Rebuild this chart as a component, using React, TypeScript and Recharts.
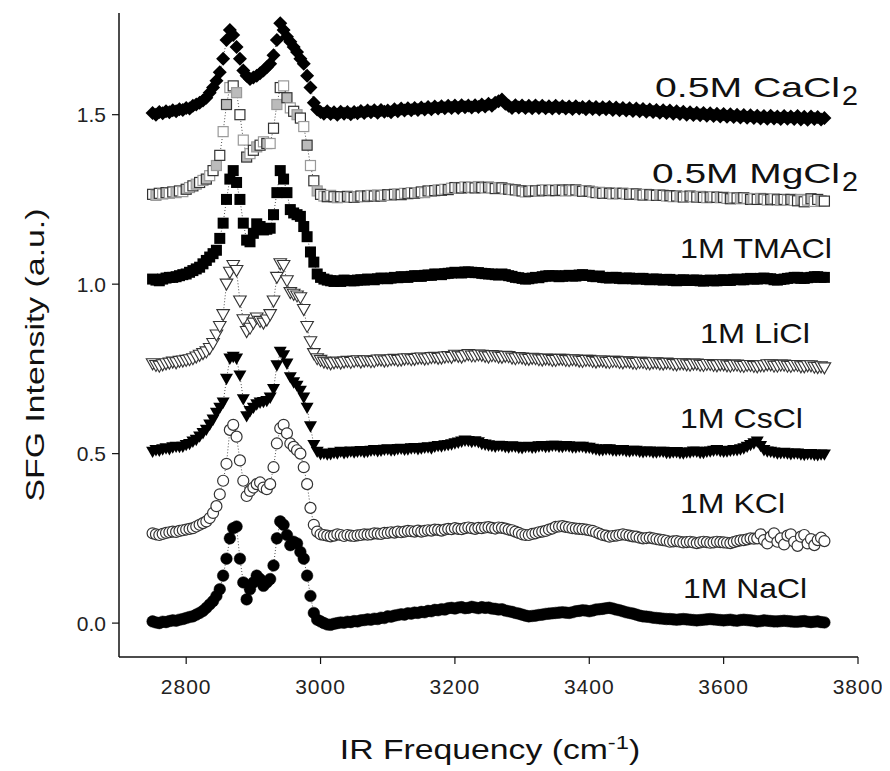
import React from "react";
import { LineChart, Line, XAxis, YAxis, Customized } from "recharts";

// IR frequency grid (cm-1), 5 cm-1 steps
const freq = [
  2750, 2755, 2760, 2765, 2770, 2775, 2780, 2785, 2790, 2795,
  2800, 2805, 2810, 2815, 2820, 2825, 2830, 2835, 2840, 2845,
  2850, 2855, 2860, 2865, 2870, 2875, 2880, 2885, 2890, 2895,
  2900, 2905, 2910, 2915, 2920, 2925, 2930, 2935, 2940, 2945,
  2950, 2955, 2960, 2965, 2970, 2975, 2980, 2985, 2990, 2995,
  3000, 3005, 3010, 3015, 3020, 3025, 3030, 3035, 3040, 3045,
  3050, 3055, 3060, 3065, 3070, 3075, 3080, 3085, 3090, 3095,
  3100, 3105, 3110, 3115, 3120, 3125, 3130, 3135, 3140, 3145,
  3150, 3155, 3160, 3165, 3170, 3175, 3180, 3185, 3190, 3195,
  3200, 3205, 3210, 3215, 3220, 3225, 3230, 3235, 3240, 3245,
  3250, 3255, 3260, 3265, 3270, 3275, 3280, 3285, 3290, 3295,
  3300, 3305, 3310, 3315, 3320, 3325, 3330, 3335, 3340, 3345,
  3350, 3355, 3360, 3365, 3370, 3375, 3380, 3385, 3390, 3395,
  3400, 3405, 3410, 3415, 3420, 3425, 3430, 3435, 3440, 3445,
  3450, 3455, 3460, 3465, 3470, 3475, 3480, 3485, 3490, 3495,
  3500, 3505, 3510, 3515, 3520, 3525, 3530, 3535, 3540, 3545,
  3550, 3555, 3560, 3565, 3570, 3575, 3580, 3585, 3590, 3595,
  3600, 3605, 3610, 3615, 3620, 3625, 3630, 3635, 3640, 3645,
  3650, 3655, 3660, 3665, 3670, 3675, 3680, 3685, 3690, 3695,
  3700, 3705, 3710, 3715, 3720, 3725, 3730, 3735, 3740, 3745,
  3750,
];

const nacl = [
  0.005, 0.002, 0.0, 0.004, 0.003, 0.006, 0.008, 0.007, 0.01, 0.012,
  0.015, 0.018, 0.02, 0.025, 0.03, 0.036, 0.045, 0.055, 0.065, 0.08,
  0.1, 0.14, 0.19, 0.25, 0.28, 0.285, 0.19, 0.12, 0.07, 0.1,
  0.12, 0.14, 0.13, 0.11, 0.12, 0.13, 0.17, 0.25, 0.3, 0.29,
  0.26, 0.23, 0.24, 0.235, 0.21, 0.19, 0.14, 0.08, 0.03, 0.01,
  0.005, 0.0, -0.004, -0.005, -0.002, 0.0, 0.002, 0.001, 0.004, 0.003,
  0.006, 0.005, 0.008, 0.009, 0.011, 0.01, 0.013, 0.012, 0.016, 0.015,
  0.02, 0.019, 0.022, 0.024, 0.026, 0.025, 0.029, 0.028, 0.031, 0.03,
  0.033, 0.032, 0.036, 0.035, 0.039, 0.038, 0.041, 0.04, 0.044, 0.045,
  0.043, 0.046, 0.047, 0.044, 0.045, 0.048, 0.046, 0.044, 0.047, 0.045,
  0.046, 0.043, 0.042, 0.04, 0.041, 0.037, 0.035, 0.033, 0.03, 0.028,
  0.025, 0.022, 0.02, 0.021, 0.022, 0.024, 0.025, 0.027, 0.028, 0.029,
  0.03, 0.031, 0.032, 0.031, 0.03, 0.032, 0.035, 0.036, 0.038, 0.037,
  0.035, 0.037, 0.04, 0.041, 0.042, 0.044, 0.045, 0.043, 0.04, 0.038,
  0.035, 0.032, 0.03, 0.028, 0.025, 0.022, 0.02, 0.019, 0.018, 0.016,
  0.015, 0.014, 0.013, 0.012, 0.012, 0.011, 0.01, 0.011, 0.012, 0.011,
  0.01, 0.009, 0.008, 0.009, 0.01, 0.011, 0.012, 0.011, 0.01, 0.009,
  0.008, 0.009, 0.01, 0.008, 0.007, 0.009, 0.01, 0.009, 0.008, 0.007,
  0.005, 0.006, 0.008, 0.007, 0.006, 0.005, 0.005, 0.006, 0.007, 0.006,
  0.005, 0.004, 0.004, 0.005, 0.006, 0.004, 0.003, 0.004, 0.005, 0.003,
  0.002,
];

const kcl = [
  0.265, 0.262, 0.26, 0.263, 0.266, 0.268, 0.27, 0.269, 0.272, 0.274,
  0.276, 0.278, 0.28, 0.285, 0.29, 0.295, 0.3, 0.31, 0.325, 0.345,
  0.38, 0.42, 0.47, 0.57, 0.585, 0.55, 0.48, 0.42, 0.375, 0.39,
  0.4, 0.41, 0.415, 0.4, 0.395, 0.41, 0.46, 0.53, 0.575, 0.585,
  0.56, 0.53, 0.52, 0.51, 0.5, 0.46, 0.41, 0.34, 0.29, 0.27,
  0.262, 0.26, 0.258, 0.256, 0.258, 0.262, 0.26, 0.257, 0.26, 0.258,
  0.257, 0.259, 0.26, 0.262, 0.261, 0.262, 0.265, 0.264, 0.263, 0.266,
  0.266, 0.268, 0.267, 0.27, 0.268, 0.27, 0.272, 0.271, 0.27, 0.273,
  0.27, 0.272, 0.274, 0.273, 0.276, 0.275, 0.273, 0.276, 0.278, 0.277,
  0.28, 0.278, 0.277, 0.28, 0.282, 0.28, 0.278, 0.281, 0.28, 0.282,
  0.283, 0.281, 0.279, 0.282, 0.281, 0.279, 0.276, 0.274, 0.27, 0.266,
  0.262, 0.26, 0.26, 0.263, 0.265, 0.268, 0.27, 0.272, 0.276, 0.279,
  0.284, 0.285, 0.286, 0.284, 0.282, 0.28, 0.279, 0.278, 0.277, 0.276,
  0.274, 0.272, 0.268, 0.264, 0.26, 0.258, 0.255, 0.257, 0.258, 0.26,
  0.262, 0.26, 0.258, 0.256, 0.255, 0.252, 0.25, 0.251, 0.252, 0.25,
  0.248, 0.246, 0.245, 0.243, 0.24, 0.241, 0.242, 0.24, 0.238, 0.239,
  0.24, 0.238, 0.236, 0.238, 0.24, 0.239, 0.237, 0.238, 0.24, 0.239,
  0.238, 0.237, 0.236, 0.239, 0.242, 0.244, 0.245, 0.247, 0.25, 0.249,
  0.25, 0.262, 0.245, 0.235, 0.255, 0.265, 0.24, 0.25, 0.232, 0.258,
  0.262, 0.24, 0.228, 0.255, 0.26, 0.235, 0.248, 0.23, 0.245, 0.252,
  0.242,
];

const cscl = [
  0.505, 0.51, 0.508, 0.512, 0.515, 0.513, 0.518, 0.52, 0.519, 0.52,
  0.525, 0.528, 0.535, 0.54, 0.55, 0.56, 0.57, 0.585, 0.6, 0.62,
  0.635, 0.65, 0.72, 0.78, 0.785, 0.78, 0.73, 0.66, 0.61, 0.625,
  0.635, 0.645, 0.65, 0.652, 0.655, 0.665, 0.69, 0.76, 0.8, 0.79,
  0.765, 0.725, 0.71, 0.7, 0.685, 0.665, 0.635, 0.58, 0.525, 0.505,
  0.498, 0.5, 0.497, 0.498, 0.502, 0.5, 0.505, 0.501, 0.503, 0.506,
  0.503, 0.505, 0.507, 0.504, 0.505, 0.508, 0.51, 0.507, 0.508, 0.511,
  0.512, 0.509, 0.51, 0.513, 0.514, 0.511, 0.512, 0.515, 0.516, 0.513,
  0.515, 0.517, 0.518, 0.515, 0.52, 0.522, 0.521, 0.524, 0.525, 0.527,
  0.53, 0.532, 0.535, 0.538, 0.537, 0.534, 0.536, 0.533, 0.528, 0.526,
  0.524, 0.522, 0.52, 0.523, 0.522, 0.519, 0.518, 0.521, 0.52, 0.517,
  0.516, 0.519, 0.52, 0.517, 0.518, 0.521, 0.522, 0.519, 0.52, 0.523,
  0.523, 0.52, 0.519, 0.522, 0.521, 0.518, 0.518, 0.52, 0.52, 0.517,
  0.517, 0.514, 0.512, 0.51, 0.51, 0.512, 0.512, 0.509, 0.508, 0.51,
  0.51, 0.507, 0.506, 0.508, 0.508, 0.505, 0.504, 0.506, 0.506, 0.503,
  0.503, 0.505, 0.505, 0.502, 0.502, 0.504, 0.504, 0.501, 0.5, 0.503,
  0.503, 0.506, 0.505, 0.502, 0.502, 0.505, 0.506, 0.508, 0.51, 0.507,
  0.505, 0.506, 0.508, 0.51, 0.51, 0.512, 0.515, 0.52, 0.525, 0.53,
  0.535, 0.522, 0.51, 0.506, 0.505, 0.503, 0.5, 0.501, 0.502, 0.5,
  0.498, 0.5, 0.5, 0.497, 0.496, 0.498, 0.498, 0.496, 0.495, 0.497,
  0.497,
];

const licl = [
  0.765, 0.76, 0.758, 0.762, 0.765, 0.767, 0.77, 0.768, 0.772, 0.773,
  0.775, 0.777, 0.78, 0.785, 0.79, 0.795, 0.8, 0.81, 0.825, 0.85,
  0.875, 0.91, 1.0, 1.035, 1.055, 1.04, 0.95, 0.895, 0.86, 0.87,
  0.885, 0.9, 0.89, 0.885, 0.894, 0.91, 0.95, 1.02, 1.06, 1.055,
  1.01, 0.975, 0.97, 0.965, 0.96, 0.925, 0.875, 0.83, 0.795, 0.78,
  0.775, 0.77, 0.768, 0.765, 0.768, 0.77, 0.767, 0.77, 0.772, 0.769,
  0.772, 0.774, 0.77, 0.773, 0.774, 0.771, 0.772, 0.776, 0.776, 0.773,
  0.774, 0.777, 0.778, 0.775, 0.776, 0.779, 0.78, 0.777, 0.778, 0.781,
  0.782, 0.779, 0.78, 0.783, 0.784, 0.781, 0.782, 0.785, 0.786, 0.784,
  0.79, 0.787, 0.785, 0.789, 0.792, 0.788, 0.788, 0.791, 0.79, 0.787,
  0.785, 0.789, 0.788, 0.785, 0.784, 0.787, 0.786, 0.782, 0.78, 0.783,
  0.782, 0.779, 0.778, 0.781, 0.78, 0.777, 0.776, 0.779, 0.778, 0.775,
  0.775, 0.778, 0.778, 0.775, 0.774, 0.777, 0.776, 0.773, 0.772, 0.775,
  0.775, 0.772, 0.77, 0.773, 0.773, 0.77, 0.769, 0.772, 0.772, 0.769,
  0.768, 0.771, 0.77, 0.767, 0.766, 0.769, 0.769, 0.766, 0.765, 0.768,
  0.768, 0.765, 0.764, 0.767, 0.766, 0.763, 0.762, 0.765, 0.765, 0.762,
  0.761, 0.764, 0.764, 0.761, 0.76, 0.763, 0.763, 0.76, 0.759, 0.762,
  0.762, 0.759, 0.758, 0.761, 0.761, 0.758, 0.757, 0.76, 0.76, 0.757,
  0.756, 0.759, 0.759, 0.762, 0.762, 0.758, 0.758, 0.761, 0.761, 0.758,
  0.757, 0.76, 0.76, 0.756, 0.756, 0.759, 0.759, 0.755, 0.754, 0.756,
  0.753,
];

const tmacl = [
  1.015, 1.012, 1.01, 1.015, 1.018, 1.02, 1.02, 1.022, 1.025, 1.028,
  1.03, 1.035, 1.04, 1.045, 1.05, 1.06, 1.07, 1.08, 1.09, 1.1,
  1.135, 1.18, 1.25, 1.31, 1.335, 1.3, 1.25, 1.18, 1.13, 1.125,
  1.15, 1.178, 1.17, 1.16, 1.162, 1.165, 1.205, 1.27, 1.335, 1.31,
  1.27, 1.22, 1.21, 1.205, 1.2, 1.17, 1.14, 1.095, 1.065, 1.03,
  1.02, 1.015, 1.012, 1.01, 1.008, 1.01, 1.008, 1.012, 1.011, 1.01,
  1.01, 1.012, 1.013, 1.012, 1.015, 1.014, 1.013, 1.016, 1.018, 1.017,
  1.016, 1.018, 1.02, 1.019, 1.022, 1.021, 1.02, 1.023, 1.025, 1.024,
  1.023, 1.026, 1.027, 1.026, 1.03, 1.029, 1.028, 1.031, 1.032, 1.033,
  1.035, 1.034, 1.033, 1.036, 1.036, 1.035, 1.034, 1.034, 1.032, 1.031,
  1.03, 1.03, 1.028, 1.027, 1.03, 1.028, 1.025, 1.023, 1.02, 1.019,
  1.017, 1.015, 1.016, 1.018, 1.02, 1.019, 1.022, 1.024, 1.025, 1.024,
  1.025, 1.022, 1.023, 1.025, 1.026, 1.024, 1.024, 1.027, 1.028, 1.026,
  1.026, 1.023, 1.022, 1.024, 1.02, 1.019, 1.018, 1.02, 1.02, 1.017,
  1.016, 1.018, 1.018, 1.016, 1.015, 1.017, 1.017, 1.014, 1.013, 1.015,
  1.015, 1.013, 1.012, 1.014, 1.014, 1.011, 1.01, 1.012, 1.013, 1.011,
  1.011, 1.012, 1.012, 1.01, 1.009, 1.011, 1.012, 1.01, 1.01, 1.012,
  1.013, 1.011, 1.011, 1.014, 1.015, 1.013, 1.013, 1.016, 1.017, 1.015,
  1.015, 1.017, 1.018, 1.016, 1.016, 1.013, 1.012, 1.014, 1.015, 1.017,
  1.018, 1.02, 1.02, 1.017, 1.017, 1.019, 1.02, 1.022, 1.022, 1.02,
  1.02,
];

const mgcl2 = [
  1.265, 1.262, 1.268, 1.266, 1.27, 1.268, 1.272, 1.27, 1.275, 1.273,
  1.28, 1.285, 1.29, 1.295, 1.3, 1.306, 1.31, 1.32, 1.335, 1.35,
  1.38, 1.45, 1.53, 1.58, 1.585, 1.565, 1.5, 1.425, 1.375, 1.385,
  1.395, 1.405, 1.41, 1.42, 1.415, 1.415, 1.46, 1.53, 1.58, 1.585,
  1.55, 1.52, 1.51, 1.5, 1.49, 1.465, 1.41, 1.35, 1.305, 1.275,
  1.265, 1.26, 1.258, 1.262, 1.258, 1.255, 1.258, 1.256, 1.259, 1.257,
  1.256, 1.258, 1.26, 1.258, 1.26, 1.262, 1.26, 1.263, 1.26, 1.262,
  1.264, 1.262, 1.265, 1.266, 1.264, 1.268, 1.267, 1.27, 1.268, 1.27,
  1.272, 1.27, 1.275, 1.274, 1.276, 1.278, 1.277, 1.28, 1.279, 1.283,
  1.285, 1.283, 1.284, 1.287, 1.285, 1.286, 1.284, 1.288, 1.285, 1.284,
  1.286, 1.284, 1.282, 1.285, 1.284, 1.281, 1.28, 1.279, 1.278, 1.276,
  1.275, 1.272, 1.274, 1.276, 1.275, 1.274, 1.277, 1.278, 1.276, 1.278,
  1.276, 1.279, 1.277, 1.275, 1.278, 1.276, 1.278, 1.276, 1.274, 1.276,
  1.274, 1.272, 1.27, 1.271, 1.268, 1.27, 1.268, 1.266, 1.268, 1.267,
  1.268, 1.266, 1.265, 1.267, 1.266, 1.264, 1.263, 1.265, 1.264, 1.262,
  1.262, 1.264, 1.262, 1.26, 1.261, 1.258, 1.26, 1.259, 1.257, 1.258,
  1.26, 1.258, 1.257, 1.259, 1.256, 1.255, 1.257, 1.258, 1.256, 1.255,
  1.256, 1.253, 1.252, 1.255, 1.254, 1.252, 1.255, 1.253, 1.25, 1.252,
  1.25, 1.253, 1.251, 1.248, 1.25, 1.252, 1.249, 1.247, 1.25, 1.248,
  1.25, 1.247, 1.246, 1.25, 1.243, 1.248, 1.252, 1.244, 1.25, 1.246,
  1.245,
];

const cacl2 = [
  1.505, 1.5, 1.508, 1.504, 1.51, 1.507, 1.513, 1.51, 1.516, 1.514,
  1.52, 1.518, 1.526, 1.53, 1.535, 1.542, 1.55, 1.565, 1.58, 1.6,
  1.625, 1.665, 1.72, 1.75, 1.735, 1.7, 1.665, 1.63, 1.615, 1.605,
  1.61, 1.615, 1.622, 1.63, 1.64, 1.65, 1.675, 1.72, 1.77, 1.75,
  1.73, 1.715, 1.7, 1.685, 1.665, 1.65, 1.615, 1.58, 1.535, 1.515,
  1.508, 1.503, 1.51, 1.502, 1.507, 1.5, 1.509, 1.503, 1.508, 1.501,
  1.508, 1.504, 1.511, 1.505, 1.512, 1.507, 1.513, 1.506, 1.514, 1.509,
  1.512, 1.507, 1.516, 1.51, 1.518, 1.512, 1.519, 1.513, 1.52, 1.514,
  1.521, 1.515, 1.523, 1.516, 1.524, 1.518, 1.525, 1.519, 1.526, 1.52,
  1.527, 1.52, 1.528, 1.522, 1.527, 1.521, 1.528, 1.523, 1.53, 1.524,
  1.532, 1.526, 1.535, 1.54, 1.545, 1.532, 1.526, 1.52, 1.528, 1.521,
  1.527, 1.52, 1.526, 1.519, 1.527, 1.52, 1.526, 1.519, 1.525, 1.518,
  1.526, 1.519, 1.525, 1.518, 1.524, 1.517, 1.525, 1.518, 1.523, 1.516,
  1.524, 1.517, 1.523, 1.515, 1.522, 1.516, 1.523, 1.514, 1.521, 1.513,
  1.52, 1.512, 1.519, 1.511, 1.518, 1.51, 1.517, 1.509, 1.515, 1.508,
  1.514, 1.506, 1.513, 1.505, 1.512, 1.503, 1.51, 1.502, 1.509, 1.5,
  1.507, 1.499, 1.506, 1.498, 1.505, 1.497, 1.504, 1.496, 1.503, 1.495,
  1.502, 1.494, 1.501, 1.493, 1.5, 1.492, 1.499, 1.491, 1.498, 1.49,
  1.497, 1.489, 1.496, 1.488, 1.497, 1.489, 1.495, 1.487, 1.496, 1.488,
  1.495, 1.487, 1.496, 1.486, 1.494, 1.485, 1.495, 1.487, 1.493, 1.486,
  1.49,
];

const xTicks = [2800, 3000, 3200, 3400, 3600, 3800];
const yTicks = [0, 0.5, 1.0, 1.5];

const data = freq.map((x, i) => ({
  x,
  nacl: nacl[i],
  kcl: kcl[i],
  cscl: cscl[i],
  licl: licl[i],
  tmacl: tmacl[i],
  mgcl2: mgcl2[i],
  cacl2: cacl2[i],
}));

const FONT = "'Liberation Sans', Arial, Helvetica, sans-serif";

type Kind = "circleFill" | "circleOpen" | "triFill" | "triOpen" | "sqFill" | "sqOpen" | "diamond";

const makeDot = (kind: Kind) => (props: any) => {
  const { cx, cy, index } = props;
  const key = `${kind}-${index}`;
  if (cx == null || cy == null || isNaN(cx) || isNaN(cy)) return <g key={key} />;
  switch (kind) {
    case "circleFill":
      return <circle key={key} cx={cx} cy={cy} r={5.8} fill="#000" stroke="#000" strokeWidth={0.5} />;
    case "circleOpen":
      return <circle key={key} cx={cx} cy={cy} r={5.5} fill="#fff" stroke="#333" strokeWidth={1.2} />;
    case "triFill": {
      const s = 6.5;
      return (
        <polygon key={key} points={`${cx - s},${cy - s * 0.8} ${cx + s},${cy - s * 0.8} ${cx},${cy + s * 0.95}`} fill="#000" />
      );
    }
    case "triOpen": {
      const s = 6.3;
      return (
        <polygon key={key} points={`${cx - s},${cy - s * 0.8} ${cx + s},${cy - s * 0.8} ${cx},${cy + s * 0.95}`} fill="#fff" stroke="#333" strokeWidth={1.1} />
      );
    }
    case "sqFill":
      return <rect key={key} x={cx - 5.5} y={cy - 5.5} width={11} height={11} fill="#000" />;
    case "sqOpen":
      return (
        <rect key={key} x={cx - 5} y={cy - 5} width={10} height={10} fill={index % 3 === 1 ? "#bbb" : "#fff"} stroke={index % 2 === 0 ? "#333" : "#999"} strokeWidth={1.2} />
      );
    case "diamond": {
      const s = 7;
      return <polygon key={key} points={`${cx},${cy - s} ${cx + s},${cy} ${cx},${cy + s} ${cx - s},${cy}`} fill="#000" />;
    }
  }
  return <g key={key} />;
};

const seriesDefs: { key: string; kind: Kind }[] = [
  { key: "cacl2", kind: "diamond" },
  { key: "mgcl2", kind: "sqOpen" },
  { key: "tmacl", kind: "sqFill" },
  { key: "licl", kind: "triOpen" },
  { key: "cscl", kind: "triFill" },
  { key: "kcl", kind: "circleOpen" },
  { key: "nacl", kind: "circleFill" },
];

const seriesLabels = [
  { text: "0.5M CaCl", sub: "2", x: 647, y: 89, len: 185 },
  { text: "0.5M MgCl", sub: "2", x: 644, y: 175, len: 188 },
  { text: "1M TMACl", sub: "", x: 672, y: 250, len: 152 },
  { text: "1M LiCl", sub: "", x: 692, y: 335, len: 110 },
  { text: "1M CsCl", sub: "", x: 672, y: 420, len: 123 },
  { text: "1M KCl", sub: "", x: 672, y: 505, len: 105 },
  { text: "1M NaCl", sub: "", x: 675, y: 590, len: 124 },
];

const Texts = () => (
  <g fontFamily={FONT} fill="#111">
    {seriesLabels.map((l) => (
      <g key={l.text}>
        <text x={l.x} y={l.y} fontSize={28} textLength={l.len} lengthAdjust="spacingAndGlyphs">
          {l.text}
        </text>
        {l.sub ? (
          <text x={l.x + l.len + 2} y={l.y + 8} fontSize={28} textLength={16} lengthAdjust="spacingAndGlyphs">
            {l.sub}
          </text>
        ) : null}
      </g>
    ))}
    <g transform="translate(36 347) rotate(-90) scale(1.3 1)">
      <text x={0} y={0} fontSize={26} textAnchor="middle">
        SFG Intensity (a.u.)
      </text>
    </g>
    <g transform="translate(482 751) scale(1.25 1)">
      <text x={0} y={0} fontSize={27} textAnchor="middle">
        IR Frequency (cm<tspan dy={-10} fontSize={19}>-1</tspan><tspan dy={10}>)</tspan>
      </text>
    </g>
  </g>
);

export default function App() {
  return (
    <LineChart
      width={874}
      height={763}
      data={data}
      margin={{ top: 5, right: 24, bottom: 70, left: 51 }}
    >
      <XAxis
        dataKey="x"
        type="number"
        domain={[2700, 3800]}
        ticks={xTicks}
        allowDataOverflow
        height={44}
        axisLine={{ stroke: "#111", strokeWidth: 1.5 }}
        tickLine={{ stroke: "#111", strokeWidth: 1.2 }}
        tickSize={7}
        tick={{ fontSize: 21, fill: "#222", fontFamily: FONT, letterSpacing: 1 }}
        tickMargin={15}
      />
      <YAxis
        type="number"
        domain={[-0.1, 1.8]}
        ticks={yTicks}
        allowDataOverflow
        width={60}
        axisLine={{ stroke: "#111", strokeWidth: 1.5 }}
        tickLine={{ stroke: "#111", strokeWidth: 1.2 }}
        tickSize={7}
        tick={{ fontSize: 21, fill: "#222", fontFamily: FONT }}
        tickMargin={6}
        tickFormatter={(v: number) => v.toFixed(1)}
      />
      {seriesDefs.map((s) => (
        <Line
          key={s.key}
          dataKey={s.key}
          type="linear"
          stroke="#222"
          strokeWidth={0.8}
          strokeDasharray="1 2"
          dot={makeDot(s.kind)}
          activeDot={false}
          isAnimationActive={false}
        />
      ))}
      <Customized component={Texts} />
    </LineChart>
  );
}
